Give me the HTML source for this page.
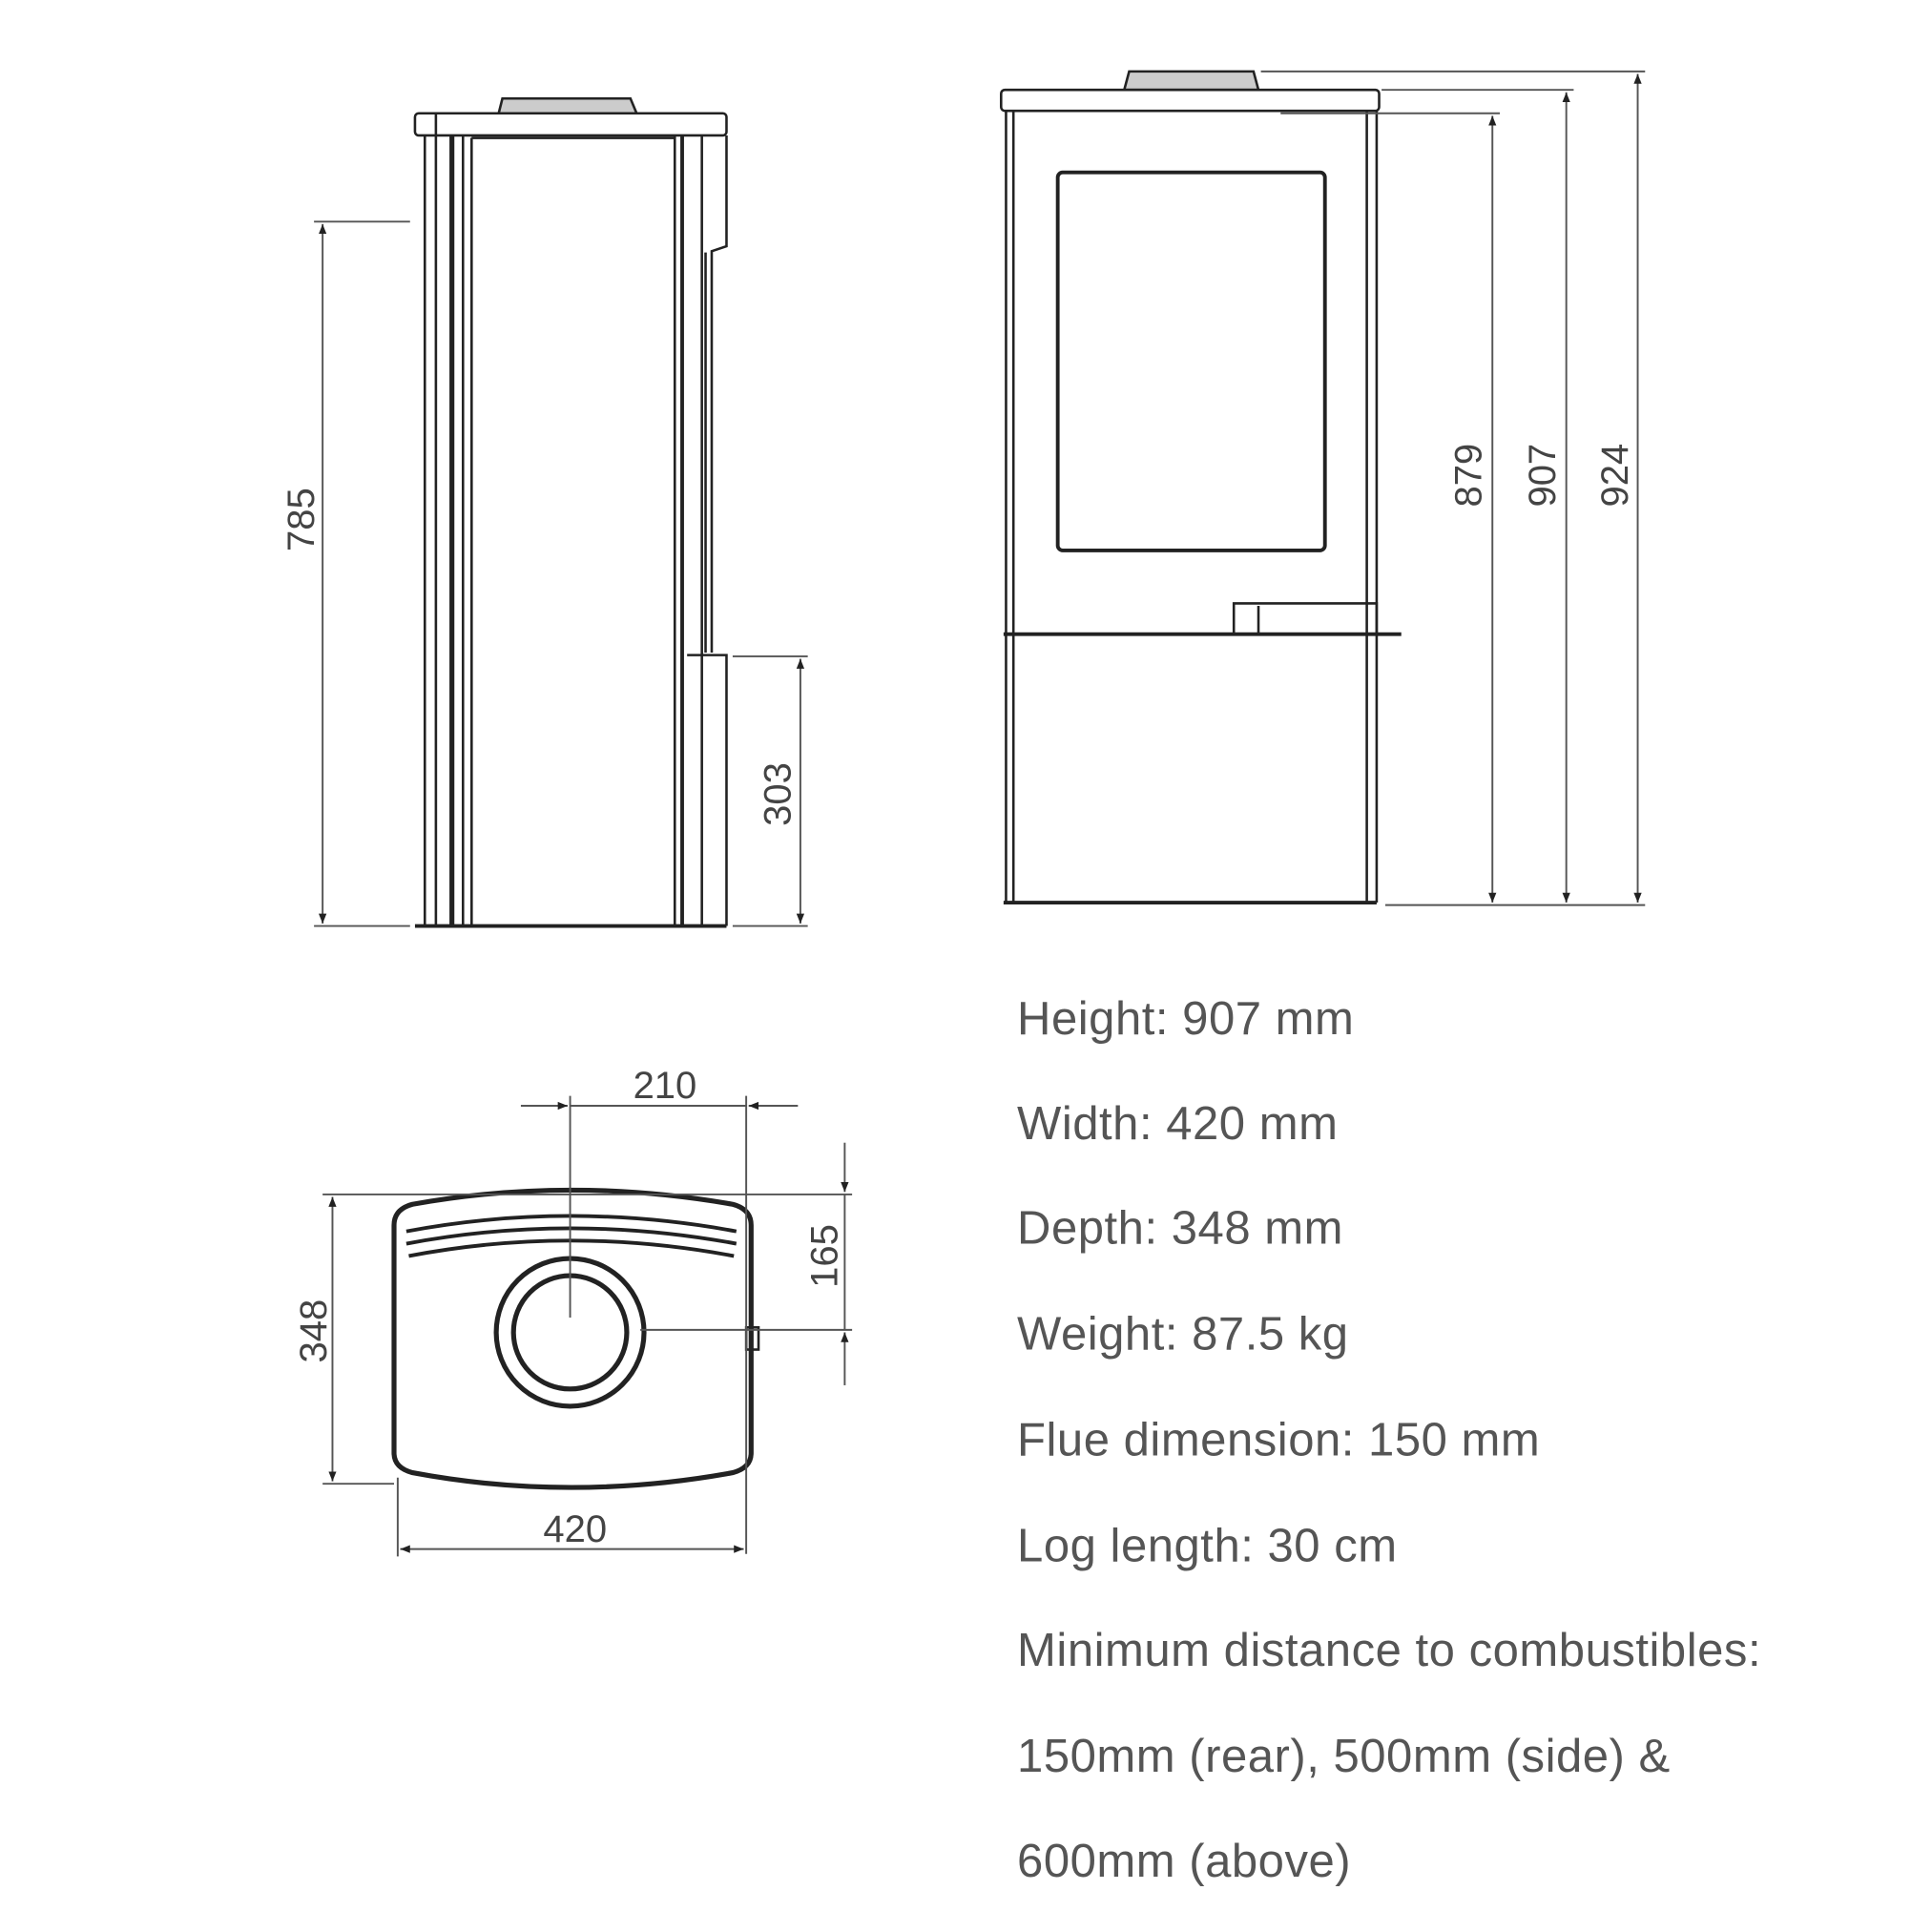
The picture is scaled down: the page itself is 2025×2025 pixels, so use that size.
<!DOCTYPE html>
<html><head><style>
html,body{margin:0;padding:0;background:#fff;}
svg{display:block;}
.t{font-family:"Liberation Sans",sans-serif;fill:#555;font-size:38px;letter-spacing:0.4px;}
.d{font-family:"Liberation Sans",sans-serif;fill:#444;font-size:31px;}
</style></head><body>
<svg width="2025" height="2025" viewBox="0 0 1569 1569" xmlns="http://www.w3.org/2000/svg">
<defs>
<marker id="a" viewBox="0 0 10 10" refX="10" refY="5" markerWidth="8" markerHeight="14" orient="auto-start-reverse" markerUnits="userSpaceOnUse"><path d="M0,1 L10,5 L0,9 z" fill="#222"/></marker>
</defs>
<g stroke="#222" fill="none" stroke-width="2">
<!-- Side view -->
<path d="M405,92 L408,80 L512,80 L517,92 Z" fill="#ccc"/>
<rect x="337" y="92" width="253" height="18" rx="3"/>
<line x1="345" y1="110" x2="345" y2="752"/>
<line x1="354" y1="92" x2="354" y2="752"/>
<line x1="367" y1="110" x2="367" y2="752" stroke-width="4"/>
<line x1="376" y1="110" x2="376" y2="752"/>
<line x1="383" y1="112" x2="383" y2="752"/>
<line x1="383" y1="112" x2="548" y2="112"/>
<line x1="548" y1="110" x2="548" y2="752"/>
<line x1="554" y1="110" x2="554" y2="752" stroke-width="3"/>
<line x1="570" y1="110" x2="570" y2="752"/>
<path d="M590,110 L590,200 L578,204 L578,530"/>
<line x1="573" y1="205" x2="573" y2="530"/>
<path d="M558,532 L590,532 L590,752"/>
<line x1="337" y1="752" x2="590" y2="752" stroke-width="3"/>
<g stroke="#555" stroke-width="1.5">
<line x1="255" y1="180" x2="333" y2="180"/>
<line x1="255" y1="752" x2="333" y2="752"/>
<line x1="262" y1="182" x2="262" y2="750" marker-start="url(#a)" marker-end="url(#a)"/>
<line x1="595" y1="533" x2="656" y2="533"/>
<line x1="595" y1="752" x2="656" y2="752"/>
<line x1="650" y1="535" x2="650" y2="750" marker-start="url(#a)" marker-end="url(#a)"/>
</g>
<!-- Front view -->
<path d="M913,73 L917,58 L1018,58 L1022,73 Z" fill="#ccc"/>
<rect x="813" y="73" width="307" height="17" rx="3"/>
<line x1="823" y1="90" x2="823" y2="733"/>
<line x1="1110" y1="90" x2="1110" y2="733"/>
<line x1="817" y1="90" x2="817" y2="733"/>
<line x1="1118" y1="90" x2="1118" y2="733"/>
<rect x="859" y="140" width="217" height="307" rx="4" stroke-width="3"/>
<path d="M1002,515 L1002,490 L1118,490 L1118,515"/>
<line x1="1022" y1="492" x2="1022" y2="515"/>
<line x1="815" y1="515" x2="1138" y2="515" stroke-width="3"/>
<line x1="815" y1="733" x2="1118" y2="733" stroke-width="3"/>
<g stroke="#555" stroke-width="1.5">
<line x1="1024" y1="58" x2="1336" y2="58"/>
<line x1="1122" y1="73" x2="1278" y2="73"/>
<line x1="1040" y1="92" x2="1218" y2="92"/>
<line x1="1125" y1="735" x2="1336" y2="735"/>
<line x1="1212" y1="94" x2="1212" y2="733" marker-start="url(#a)" marker-end="url(#a)"/>
<line x1="1272" y1="75" x2="1272" y2="733" marker-start="url(#a)" marker-end="url(#a)"/>
<line x1="1330" y1="60" x2="1330" y2="733" marker-start="url(#a)" marker-end="url(#a)"/>
</g>
<!-- Top view -->
<path d="M320,995 Q320,982 335,978 Q463,955 595,978 Q610,982 610,995 L610,1180 Q610,1192 595,1196 Q463,1220 335,1196 Q320,1192 320,1180 Z" stroke-width="4"/>
<path d="M330,1000 Q463,975 598,1000 M330,1010 Q463,985 598,1010 M332,1020 Q463,995 596,1020" stroke-width="3"/>
<circle cx="463" cy="1082" r="60" stroke-width="4"/>
<circle cx="463" cy="1082" r="46" stroke-width="4"/>
<rect x="606" y="1078" width="10" height="18"/>
<g stroke="#555" stroke-width="1.5">
<line x1="463" y1="890" x2="463" y2="1070"/>
<line x1="606" y1="890" x2="606" y2="1262"/>
<line x1="423" y1="898" x2="461" y2="898" marker-end="url(#a)"/>
<line x1="648" y1="898" x2="608" y2="898" marker-end="url(#a)"/>
<line x1="463" y1="898" x2="606" y2="898"/>
<line x1="262" y1="970" x2="692" y2="970"/>
<line x1="262" y1="1205" x2="320" y2="1205"/>
<line x1="270" y1="972" x2="270" y2="1203" marker-start="url(#a)" marker-end="url(#a)"/>
<line x1="323" y1="1200" x2="323" y2="1264"/>
<line x1="325" y1="1258" x2="604" y2="1258" marker-start="url(#a)" marker-end="url(#a)"/>
<line x1="520" y1="1080" x2="692" y2="1080"/>
<line x1="686" y1="928" x2="686" y2="968" marker-end="url(#a)"/>
<line x1="686" y1="1125" x2="686" y2="1082" marker-end="url(#a)"/>
<line x1="686" y1="970" x2="686" y2="1080"/>
</g>
</g>
<text class="d" transform="translate(255,422) rotate(-90)" text-anchor="middle">785</text>
<text class="d" transform="translate(642,645) rotate(-90)" text-anchor="middle">303</text>
<text class="d" transform="translate(1203,386) rotate(-90)" text-anchor="middle">879</text>
<text class="d" transform="translate(1263,386) rotate(-90)" text-anchor="middle">907</text>
<text class="d" transform="translate(1322,386) rotate(-90)" text-anchor="middle">924</text>
<text class="d" x="540" y="892" text-anchor="middle">210</text>
<text class="d" transform="translate(265,1081) rotate(-90)" text-anchor="middle">348</text>
<text class="d" transform="translate(680,1020) rotate(-90)" text-anchor="middle">165</text>
<text class="d" x="467" y="1252" text-anchor="middle">420</text>
<g class="t">
<text x="826" y="840">Height: 907 mm</text>
<text x="826" y="925">Width: 420 mm</text>
<text x="826" y="1010">Depth: 348 mm</text>
<text x="826" y="1096">Weight: 87.5 kg</text>
<text x="826" y="1182">Flue dimension: 150 mm</text>
<text x="826" y="1268">Log length: 30 cm</text>
<text x="826" y="1353">Minimum distance to combustibles:</text>
<text x="826" y="1439">150mm (rear), 500mm (side) &amp;</text>
<text x="826" y="1524">600mm (above)</text>
</g>
</svg>
</body></html>
